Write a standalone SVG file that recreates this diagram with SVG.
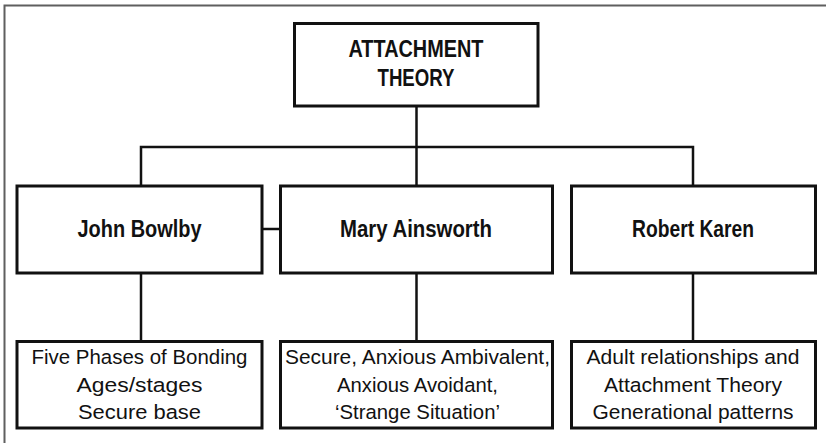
<svg xmlns="http://www.w3.org/2000/svg" width="826" height="443" viewBox="0 0 826 443">
  <style>
    .box { fill: #ffffff; stroke: #111111; stroke-width: 3; }
    .link { fill: none; stroke: #111111; stroke-width: 2.5; }
    .frame { fill: none; stroke: #5f5f5f; stroke-width: 2; }
    .head { font-family: "Liberation Sans Narrow", "Liberation Sans", Arial, sans-serif; font-weight: bold; font-size: 23px; fill: #111111; text-anchor: middle; }
    .body { font-family: "Liberation Sans Narrow", "Liberation Sans", Arial, sans-serif; font-size: 20.5px; fill: #111111; text-anchor: middle; }
  </style>

  <rect width="826" height="443" fill="#ffffff"/>

  <!-- page frame: top and left edges only -->
  <path class="frame" d="M826,5.5 H4.5 V443"/>

  <!-- connectors -->
  <g id="connectors">
    <path class="link" d="M416.5,106 V186"/>
    <path class="link" d="M141,186 V147 H693 V186"/>
    <path class="link" d="M141,273 V341.5"/>
    <path class="link" d="M416.5,273 V341.5"/>
    <path class="link" d="M693,273 V341.5"/>
    <path class="link" d="M262,229 H280.5"/>
  </g>

  <!-- root -->
  <g id="attachment-theory">
    <rect class="box" x="294.5" y="23.5" width="243.5" height="82.5"/>
    <text class="head" x="416" y="56.7" textLength="135" lengthAdjust="spacingAndGlyphs">ATTACHMENT</text>
    <text class="head" x="416" y="85.7" textLength="77" lengthAdjust="spacingAndGlyphs">THEORY</text>
  </g>

  <!-- theorists -->
  <g id="john-bowlby">
    <rect class="box" x="17" y="186" width="245" height="87"/>
    <text class="head" x="139.5" y="237" textLength="124" lengthAdjust="spacingAndGlyphs">John Bowlby</text>
  </g>
  <g id="mary-ainsworth">
    <rect class="box" x="280.5" y="186" width="272" height="87"/>
    <text class="head" x="416" y="237" textLength="152" lengthAdjust="spacingAndGlyphs">Mary Ainsworth</text>
  </g>
  <g id="robert-karen">
    <rect class="box" x="571.5" y="186" width="244" height="87"/>
    <text class="head" x="693" y="237" textLength="122" lengthAdjust="spacingAndGlyphs">Robert Karen</text>
  </g>

  <!-- contributions -->
  <g id="bowlby-ideas">
    <rect class="box" x="17" y="341.5" width="245" height="86.5"/>
    <text class="body" x="139.5" y="364" textLength="216" lengthAdjust="spacingAndGlyphs">Five Phases of Bonding</text>
    <text class="body" x="139.5" y="391.5" textLength="126" lengthAdjust="spacingAndGlyphs">Ages/stages</text>
    <text class="body" x="139.5" y="419" textLength="123" lengthAdjust="spacingAndGlyphs">Secure base</text>
  </g>
  <g id="ainsworth-ideas">
    <rect class="box" x="280.5" y="341.5" width="272" height="86.5"/>
    <text class="body" x="417.5" y="364" textLength="265" lengthAdjust="spacingAndGlyphs">Secure, Anxious Ambivalent,</text>
    <text class="body" x="417.5" y="391.5" textLength="161" lengthAdjust="spacingAndGlyphs">Anxious Avoidant,</text>
    <text class="body" x="417.5" y="419" textLength="165" lengthAdjust="spacingAndGlyphs">‘Strange Situation’</text>
  </g>
  <g id="karen-ideas">
    <rect class="box" x="571.5" y="341.5" width="244" height="86.5"/>
    <text class="body" x="693" y="364" textLength="213" lengthAdjust="spacingAndGlyphs">Adult relationships and</text>
    <text class="body" x="693" y="391.5" textLength="178" lengthAdjust="spacingAndGlyphs">Attachment Theory</text>
    <text class="body" x="693" y="419" textLength="201" lengthAdjust="spacingAndGlyphs">Generational patterns</text>
  </g>
</svg>
